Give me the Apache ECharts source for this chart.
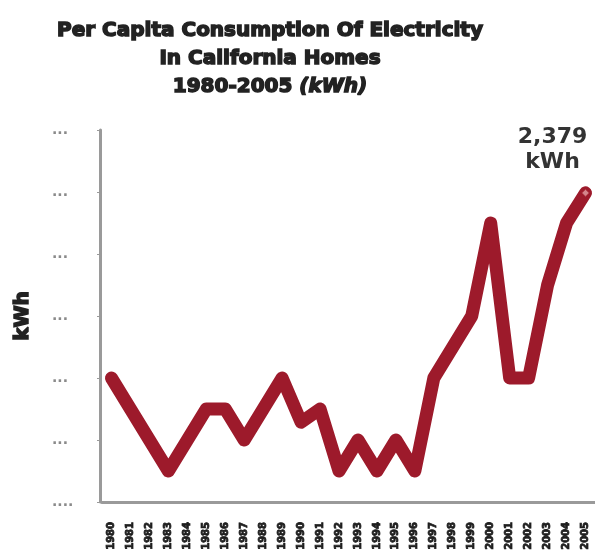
<!DOCTYPE html>
<html>
<head>
<meta charset="utf-8">
<script src="https://cdn.jsdelivr.net/npm/echarts@6/dist/echarts.min.js"></script>
<style>
  html, body { margin: 0; padding: 0; background: #ffffff; }
  #chart { width: 595px; height: 554px; }
</style>
</head>
<body>
<div id="chart"></div>
<script>
// Years on the horizontal axis
const years = ['1980', '1981', '1982', '1983', '1984', '1985', '1986', '1987', '1988', '1989',
               '1990', '1991', '1992', '1993', '1994', '1995', '1996', '1997', '1998', '1999',
               '2000', '2001', '2002', '2003', '2004', '2005'];

// Per capita residential consumption, kWh
const kwh = [2170, 2135, 2100, 2065, 2100, 2135, 2135, 2100, 2135, 2170,
             2120, 2135, 2065, 2100, 2065, 2100, 2065, 2170, 2205, 2240,
             2345, 2170, 2170, 2275, 2345, 2379];

// Value-axis tick labels, bottom to top
const yTickLabels = ['....', '...', '...', '...', '...', '...', '...'];

const yMin = 2030;
const yStep = 70;
const yMax = yMin + yStep * 6;

const lineColor = '#9d1a2b';
const lastIdx = kwh.length - 1;

const seriesData = kwh.map(function (v, i) {
  if (i !== lastIdx) return v;
  return {
    value: v,
    symbol: 'diamond',
    symbolSize: 7,
    itemStyle: { color: '#d4848b', borderColor: '#b5404c', borderWidth: 1 },
    label: {
      show: true,
      position: 'top',
      offset: [-33, -9],
      formatter: function (p) { return p.value.toLocaleString('en-US') + '\nkWh'; },
      fontFamily: 'DejaVu Sans',
      fontWeight: 'bold',
      fontSize: 22,
      lineHeight: 25,
      color: '#333333',
      align: 'center'
    }
  };
});

const chart = echarts.init(document.getElementById('chart'), null, { renderer: 'canvas' });

chart.setOption({
  animation: false,
  backgroundColor: '#ffffff',
  title: {
    text: 'Per Capita Consumption Of Electricity\nIn California Homes\n1980-2005 {i|(kWh)}',
    left: 265,
    top: 12,
    textAlign: 'center',
    textStyle: {
      fontFamily: 'DejaVu Sans',
      fontWeight: 'bold',
      fontSize: 20,
      lineHeight: 28,
      color: '#222222',
      textBorderColor: '#222222',
      textBorderWidth: 1.5,
      rich: {
        i: {
          fontFamily: 'DejaVu Sans',
          fontStyle: 'italic',
          fontWeight: 'bold',
          fontSize: 20,
          color: '#222222',
          textBorderColor: '#222222',
          textBorderWidth: 1.5
        }
      }
    }
  },
  grid: { left: 102, top: 130, width: 496, height: 372, containLabel: false },
  xAxis: {
    type: 'category',
    data: years,
    boundaryGap: true,
    axisLine: { lineStyle: { color: '#9a9a9a', width: 3 } },
    axisTick: { show: false },
    axisLabel: {
      rotate: 90,
      interval: 0,
      margin: 20,
      fontFamily: 'DejaVu Sans',
      fontWeight: 'bold',
      fontSize: 10,
      color: '#1e1e1e',
      textBorderColor: '#1e1e1e',
      textBorderWidth: 0.8
    },
    splitLine: { show: false }
  },
  yAxis: {
    type: 'value',
    min: yMin,
    max: yMax,
    interval: yStep,
    offset: 2,
    name: 'kWh',
    nameLocation: 'middle',
    nameRotate: 90,
    nameGap: 67,
    nameTextStyle: {
      fontFamily: 'DejaVu Sans',
      fontWeight: 'bold',
      fontSize: 20,
      color: '#222222',
      textBorderColor: '#222222',
      textBorderWidth: 1.5
    },
    axisLine: { show: true, lineStyle: { color: '#9a9a9a', width: 3 } },
    axisTick: { show: true, length: 3, lineStyle: { color: '#9a9a9a', width: 1 } },
    axisLabel: {
      margin: 48,
      align: 'left',
      fontFamily: 'DejaVu Sans',
      fontWeight: 'bold',
      fontSize: 14,
      color: '#8a8a8a',
      formatter: function (v) {
        const idx = Math.round((v - yMin) / yStep);
        return yTickLabels[idx] || '';
      }
    },
    splitLine: { show: false }
  },
  series: [{
    type: 'line',
    data: seriesData,
    symbol: 'none',
    showSymbol: true,
    lineStyle: { color: lineColor, width: 13, cap: 'round', join: 'round' },
    itemStyle: { color: lineColor },
    z: 3
  }]
});
</script>
</body>
</html>
